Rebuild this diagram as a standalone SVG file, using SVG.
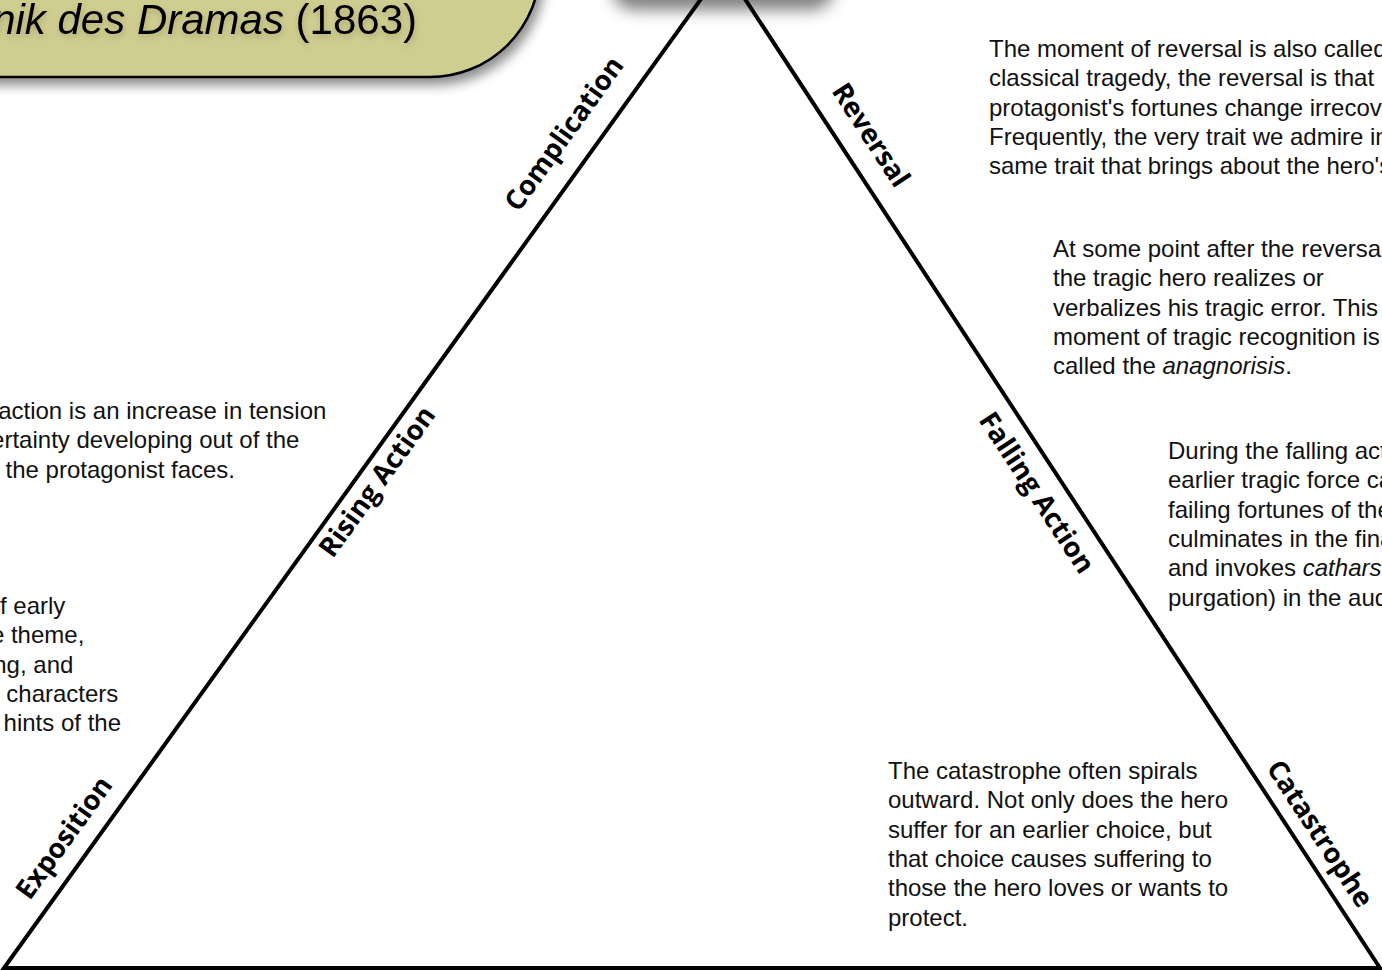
<svg xmlns="http://www.w3.org/2000/svg" width="1382" height="970" viewBox="0 0 1382 970">
<defs>
<filter id="shadow" x="-20%" y="-20%" width="140%" height="160%">
<feDropShadow dx="4" dy="7" stdDeviation="6" flood-color="#000" flood-opacity="0.45"/>
</filter>
<filter id="blur" x="-30%" y="-80%" width="160%" height="260%">
<feGaussianBlur stdDeviation="8"/>
</filter>
<filter id="tshadow" x="-10%" y="-30%" width="120%" height="180%">
<feDropShadow dx="1" dy="3" stdDeviation="3" flood-color="#000" flood-opacity="0.18"/>
</filter>
<style>
.body{font-family:"Liberation Sans",Arial,sans-serif;font-size:24px;fill:#111;}
.lbl{font-family:"Open Sans","DejaVu Sans",sans-serif;font-weight:bold;font-size:27.5px;fill:#000;}
.edge{fill:none;stroke:#000;stroke-width:4;stroke-linejoin:miter;}
</style>
</defs>
<rect width="1382" height="970" fill="#fff"/>

<g id="climax-box">
<rect x="612" y="-40" width="222" height="50" rx="22" fill="#000" fill-opacity="0.5" filter="url(#blur)"/>
<rect x="610" y="-70" width="222" height="68" rx="20" fill="#fff" stroke="#000" stroke-width="2"/>
</g>

<g id="title-box">
<rect x="-200" y="-150" width="740" height="227" rx="110" ry="110" fill="#d0cd90" stroke="#000" stroke-width="2.5" filter="url(#shadow)"/>
<text x="417" y="34" text-anchor="end" font-family="'Liberation Sans',Arial,sans-serif" font-size="42" fill="#000" filter="url(#tshadow)"><tspan font-style="italic">nik des Dramas</tspan> (1863)</text>
</g>

<g id="connectors">
<polygon class="edge" points="4,968 724,-33 1380,968"/>
</g>

<g id="labels">
<text id="complication" class="lbl" text-anchor="middle" transform="translate(571.7,139.1) rotate(-54.25)">Complication</text>
<text id="rising-action" class="lbl" text-anchor="middle" transform="translate(384.7,487.1) rotate(-54.25)">Rising Action</text>
<text id="exposition" class="lbl" text-anchor="middle" transform="translate(71.7,843.1) rotate(-54.25)">Exposition</text>
<text id="reversal" class="lbl" text-anchor="middle" transform="translate(863.1,140.2) rotate(56.77)">Reversal</text>
<text id="falling-action" class="lbl" text-anchor="middle" transform="translate(1029.1,497.8) rotate(56.77)">Falling Action</text>
<text id="catastrophe" class="lbl" text-anchor="middle" transform="translate(1312.1,838.8) rotate(56.77)">Catastrophe</text>
</g>

<g id="reversal-text">
<text class="body" x="989" y="57">
<tspan x="989">The moment of reversal is also called</tspan>
<tspan x="989" dy="29.3">classical tragedy, the reversal is that</tspan>
<tspan x="989" dy="29.3">protagonist's fortunes change irrecov</tspan>
<tspan x="989" dy="29.3">Frequently, the very trait we admire in</tspan>
<tspan x="989" dy="29.3">same trait that brings about the hero's</tspan>
</text>
</g>

<g id="recognition-text">
<text class="body" x="1053" y="257">
<tspan x="1053">At some point after the reversal</tspan>
<tspan x="1053" dy="29.3">the tragic hero realizes or</tspan>
<tspan x="1053" dy="29.3">verbalizes his tragic error. This</tspan>
<tspan x="1053" dy="29.3">moment of tragic recognition is</tspan>
<tspan x="1053" dy="29.3">called the <tspan font-style="italic">anagnorisis</tspan>.</tspan>
</text>
</g>

<g id="falling-text">
<text class="body" x="1168" y="459">
<tspan x="1168">During the falling acti</tspan>
<tspan x="1168" dy="29.3">earlier tragic force ca</tspan>
<tspan x="1168" dy="29.3">failing fortunes of the</tspan>
<tspan x="1168" dy="29.3">culminates in the fina</tspan>
<tspan x="1168" dy="29.3">and invokes <tspan font-style="italic">cathars</tspan></tspan>
<tspan x="1168" dy="29.3">purgation) in the aud</tspan>
</text>
</g>

<g id="catastrophe-text">
<text class="body" x="888" y="779">
<tspan x="888">The catastrophe often spirals</tspan>
<tspan x="888" dy="29.3">outward. Not only does the hero</tspan>
<tspan x="888" dy="29.3">suffer for an earlier choice, but</tspan>
<tspan x="888" dy="29.3">that choice causes suffering to</tspan>
<tspan x="888" dy="29.3">those the hero loves or wants to</tspan>
<tspan x="888" dy="29.3">protect.</tspan>
</text>
</g>

<g id="rising-text">
<text class="body" text-anchor="end">
<tspan x="333" y="419">action is an increase in tension</tspan>
<tspan x="306" y="448.3">ertainty developing out of the</tspan>
<tspan x="235" y="477.6">the protagonist faces.</tspan>
</text>
</g>

<g id="exposition-text">
<text class="body" text-anchor="end">
<tspan x="72" y="614">f early</tspan>
<tspan x="91" y="643.3">e theme,</tspan>
<tspan x="80" y="672.6">ng, and</tspan>
<tspan x="125" y="701.9">characters</tspan>
<tspan x="121" y="731.2">hints of the</tspan>
</text>
</g>
</svg>
